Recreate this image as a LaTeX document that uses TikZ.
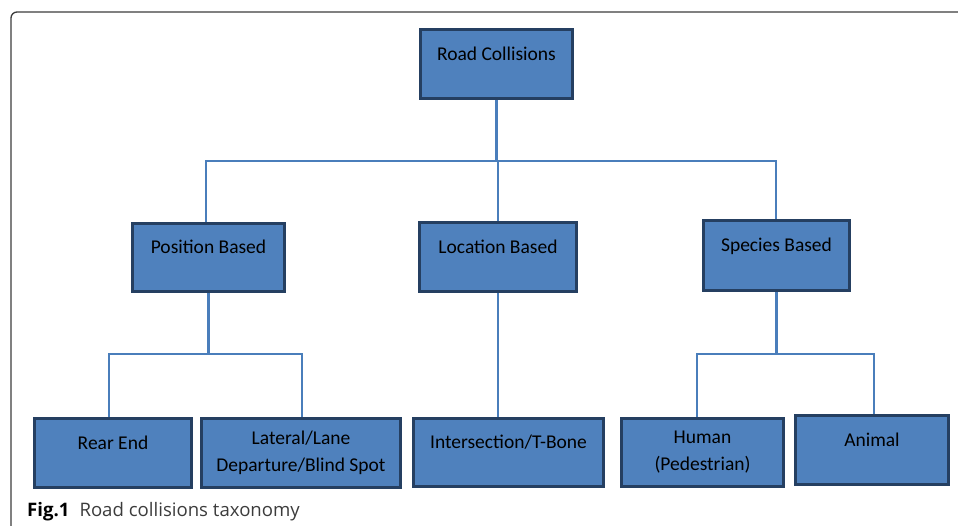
\documentclass[tikz,border=0pt]{standalone}
\usepackage{fontspec}
\setmainfont{Carlito}
\newfontfamily\capfont{Open Sans}

\begin{document}
\begin{tikzpicture}[x=1pt,y=-1pt,
    catbox/.style={draw=boxedge, fill=boxfill, line width=3pt, inner sep=0pt,
        align=center, font=\fontsize{19.5}{27}\selectfont},
    oneline/.style={text depth=21pt},
    link/.style={draw=linkblue, line width=2.7pt}]

    % Define colors
    \definecolor{boxfill}{RGB}{79,129,189}
    \definecolor{boxedge}{RGB}{37,63,97}
    \definecolor{linkblue}{RGB}{74,126,187}
    \definecolor{framegray}{RGB}{60,60,60}

    \useasboundingbox (0,0) rectangle (958,525);

    % frame
    \draw[framegray, line width=1.3pt, rounded corners=6pt] (11,530) -- (11,12) -- (962,12);

    % top
    \node[catbox, oneline, minimum width=152pt, minimum height=69pt] (root) at (496.5,64) {Road Collisions};

    % Second row
    \node[catbox, oneline, minimum width=152pt, minimum height=68pt] (pos) at (208.5,257.5) {Position Based};
    \node[catbox, oneline, minimum width=157pt, minimum height=69pt] (loc) at (498,257) {Location Based};
    \node[catbox, oneline, minimum width=146pt, minimum height=70pt] (spe) at (776.5,255.5) {Species Based};

    % Third row
    \node[catbox, oneline, minimum width=157pt, minimum height=69pt] (rear) at (113,453) {Rear End};
    \node[catbox, minimum width=199pt, minimum height=69pt] (lat) at (301,453) {Lateral/Lane\\Departure/Blind Spot};
    \node[catbox, oneline, minimum width=190pt, minimum height=68pt] (inter) at (508.5,452.5) {Intersection/T-Bone};
    \node[catbox, minimum width=162pt, minimum height=68pt] (human) at (702.5,452.5) {Human\\(Pedestrian)};
    \node[catbox, oneline, minimum width=153pt, minimum height=69pt] (animal) at (872,450) {Animal};

    %-------------
    \coordinate (b1) at (206,161);
    \coordinate (b2) at (776,161);
    \draw[link] (root.south) -- (root.south |- b1);
    \draw[link] (b1 |- pos.north) -- (b1) -- (b2) -- (b2 |- spe.north);
    \draw[link] (loc.north) -- (loc.north |- b1);

    %-------------
    \coordinate (b3) at (109,354);
    \coordinate (b4) at (302,354);
    \coordinate (b5) at (697,354);
    \coordinate (b6) at (874,354);
    \draw[link] (pos.south) -- (pos.south |- b3);
    \draw[link] (b3 |- rear.north) -- (b3) -- (b4) -- (b4 |- lat.north);
    \draw[link] (loc.south) -- (loc.south |- inter.north);
    \draw[link] (spe.south) -- (spe.south |- b5);
    \draw[link] (b5 |- human.north) -- (b5) -- (b6) -- (b6 |- animal.north);

    % caption
    \node[anchor=base west, inner sep=0pt, font=\capfont\fontsize{18.6}{22}\selectfont] (cap) at (27,516)
        {\textbf{Fig.1}\hspace{10pt}\textcolor{framegray}{Road collisions taxonomy}};

\end{tikzpicture}
\end{document}
